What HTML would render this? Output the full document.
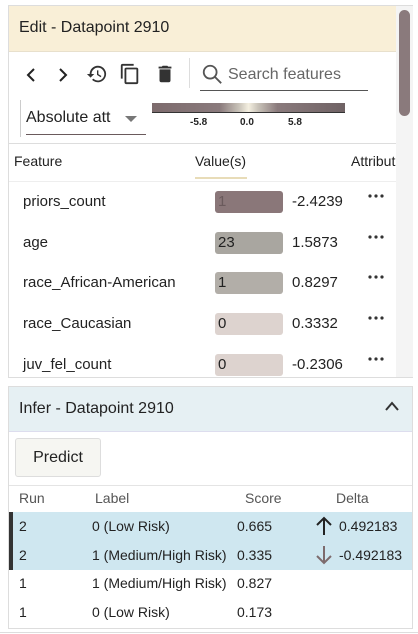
<!DOCTYPE html>
<html><head><meta charset="utf-8"><style>
body{margin:0;width:418px;height:634px;background:#fff;font-family:"Liberation Sans",sans-serif;color:#222;position:relative;overflow:hidden}
.a{position:absolute;white-space:nowrap}
.box{position:absolute;left:215px;width:68px;height:22px;border-radius:3px;font-size:15px;line-height:22px;padding-left:3px;box-sizing:border-box}
</style></head><body>
<div class="a" style="left:8px;top:5px;width:405px;height:373px;border:1px solid #ddd;box-sizing:border-box"></div>
<div class="a" style="left:9px;top:6px;width:387px;height:45px;background:#f9efd7;border-bottom:1px solid #e8e0cc"></div>
<div class="a" style="left:19px;top:19px;font-size:16px">Edit - Datapoint 2910</div>
<div class="a" style="left:396px;top:6px;width:17px;height:371px;background:#f4f4f4"></div>
<div class="a" style="left:399px;top:10px;width:11px;height:106px;background:#8a7a7c;border-radius:6px"></div>
<svg class="a" style="left:24px;top:67px" width="14" height="16"><path d="M10 2 L4 8 L10 14" fill="none" stroke="#222" stroke-width="2"/></svg>
<svg class="a" style="left:56px;top:67px" width="14" height="16"><path d="M4 2 L10 8 L4 14" fill="none" stroke="#222" stroke-width="2"/></svg>
<svg class="a" style="left:86px;top:63px" width="22" height="22" viewBox="0 0 24 24"><path d="M13 3a9 9 0 0 0-9 9H1l4 4 4-4H6a7 7 0 1 1 2 5l-1.4 1.4A9 9 0 1 0 13 3zm-1 5v5l4 2.5.8-1.3-3.3-2V8z" fill="#333"/></svg>
<svg class="a" style="left:119px;top:62px" width="22" height="24" viewBox="0 0 24 24"><path d="M16 1H4a2 2 0 0 0-2 2v14h2V3h12zm3 4H8a2 2 0 0 0-2 2v14a2 2 0 0 0 2 2h11a2 2 0 0 0 2-2V7a2 2 0 0 0-2-2zm0 16H8V7h11z" fill="#333"/></svg>
<svg class="a" style="left:154px;top:63px" width="22" height="22" viewBox="0 0 24 24"><path d="M6 19a2 2 0 0 0 2 2h8a2 2 0 0 0 2-2V7H6zM19 4h-3.5l-1-1h-5l-1 1H5v2h14z" fill="#333"/></svg>
<div class="a" style="left:189px;top:58px;width:1px;height:30px;background:#ddd"></div>
<svg class="a" style="left:201px;top:63px" width="22" height="22" viewBox="0 0 24 24"><circle cx="10" cy="10" r="7" fill="none" stroke="#555" stroke-width="2"/><line x1="15" y1="15" x2="22" y2="22" stroke="#555" stroke-width="2"/></svg>
<div class="a" style="left:228px;top:66px;font-size:16px;color:#666">Search features</div>
<div class="a" style="left:200px;top:90px;width:168px;height:1px;background:#555"></div>
<div class="a" style="left:20px;top:100px;width:1px;height:37px;background:#ccc"></div>
<div class="a" style="left:26px;top:109px;font-size:16px">Absolute att</div>
<div class="a" style="left:125px;top:116px;width:0;height:0;border-left:6px solid transparent;border-right:6px solid transparent;border-top:6px solid #777"></div>
<div class="a" style="left:26px;top:134px;width:120px;height:1px;background:#6a5a5c"></div>
<div class="a" style="left:152px;top:103px;width:193px;height:9px;background:linear-gradient(90deg,#7d6b6d 0%,#8a7a7c 35%,#c8c2b8 45%,#f4efe0 50%,#c8c2b8 55%,#8a7a7c 65%,#6f6264 100%);border-bottom:1px solid #333"></div>
<div class="a" style="left:190px;top:117px;font-size:10px;font-weight:bold">-5.8</div>
<div class="a" style="left:240px;top:117px;font-size:10px;font-weight:bold">0.0</div>
<div class="a" style="left:288px;top:117px;font-size:10px;font-weight:bold">5.8</div>
<div class="a" style="left:9px;top:143px;width:387px;height:1px;background:#ddd"></div>
<div class="a" style="left:14px;top:153px;font-size:14px">Feature</div>
<div class="a" style="left:195px;top:153px;font-size:14px">Value(s)</div>
<div class="a" style="left:195px;top:177px;width:52px;height:2px;background:#e8dcb8"></div>
<div class="a" style="left:351px;top:153px;font-size:14px;width:45px;overflow:hidden">Attribution</div>
<div class="a" style="left:9px;top:181px;width:387px;height:1px;background:#eee"></div>
<div id="rows"></div>
<div class="a" style="left:8px;top:386px;width:405px;height:243px;border:1px solid #ddd;box-sizing:border-box"></div>
<div class="a" style="left:9px;top:387px;width:403px;height:44px;background:#e6f0f3;border-bottom:1px solid #dde"></div>
<div class="a" style="left:19px;top:400px;font-size:16px">Infer - Datapoint 2910</div>
<svg class="a" style="left:384px;top:400px" width="16" height="12"><path d="M2 10 L8 3 L14 10" fill="none" stroke="#333" stroke-width="2"/></svg>
<div class="a" style="left:15px;top:438px;width:86px;height:39px;border:1px solid #ddd;border-radius:3px;background:#f6f6f2;box-sizing:border-box;font-size:16px;text-align:center;line-height:37px">Predict</div>
<div class="a" style="left:9px;top:485px;width:403px;height:1px;background:#e4e4e4"></div>
<div class="a" style="left:19px;top:490px;font-size:14px;color:#555">Run</div>
<div class="a" style="left:95px;top:490px;font-size:14px;color:#555">Label</div>
<div class="a" style="left:245px;top:490px;font-size:14px;color:#555">Score</div>
<div class="a" style="left:336px;top:490px;font-size:14px;color:#555">Delta</div>
<div class="a" style="left:9px;top:512px;width:403px;height:58px;background:#cfe7f0"></div>
<div class="a" style="left:9px;top:512px;width:4px;height:58px;background:#333"></div>
<div id="infer"></div>
<div class="a" style="left:0;top:632px;width:418px;height:1px;background:#ddd"></div>
<script>
const features=["priors_count","age","race_African-American","race_Caucasian","juv_fel_count"];
const values=["1","23","1","0","0"];
const attributions=[-2.4239,1.5873,0.8297,0.3332,-0.2306];
const boxColors=["#8a7779","#a9a6a0","#b2aea8","#ddd3cf","#ddd3cf"];
const rows=document.getElementById('rows');
features.forEach((f,i)=>{
  const y=191+i*40.7;
  const n=document.createElement('div');n.className='a';n.style.cssText=`left:23px;top:${y+2}px;font-size:15px`;n.textContent=f;
  
  
  rows.appendChild(n);
  const b=document.createElement('div');b.className='box';b.style.top=y+'px';b.style.background=boxColors[i];b.textContent=values[i];
  if(i===0)b.style.color='#6a5a5c';
  
  
  rows.appendChild(b);
  const v=document.createElement('div');v.className='a';v.style.cssText=`left:292px;top:${y+2}px;font-size:15px`;v.textContent=attributions[i].toFixed(4);
  
  
  rows.appendChild(v);
  const d=document.createElementNS('http://www.w3.org/2000/svg','svg');
  d.setAttribute('class','a');d.setAttribute('width','18');d.setAttribute('height','4');
  d.style.left='368px';d.style.top=(y+3)+'px';
  d.innerHTML='<circle cx="2" cy="2" r="1.6" fill="#333"/><circle cx="8" cy="2" r="1.6" fill="#333"/><circle cx="14" cy="2" r="1.6" fill="#333"/>';
  
  
  rows.appendChild(d);
});
const runs=["2","2","1","1"];
const labels=["0 (Low Risk)","1 (Medium/High Risk)","1 (Medium/High Risk)","0 (Low Risk)"];
const scores=["0.665","0.335","0.827","0.173"];
const deltas=["0.492183","-0.492183","",""];
const inf=document.getElementById('infer');
runs.forEach((r,i)=>{
  const y=518+i*28.7;
  const cells=[[19,r,'run-cell'],[92,labels[i],'label-cell'],[237,scores[i],'score-cell'],[339,deltas[i],'delta-cell']];
  cells.forEach(c=>{
    const e=document.createElement('div');e.className='a';e.style.cssText=`left:${c[0]}px;top:${y}px;font-size:14px`;e.textContent=c[1];
    
    
    inf.appendChild(e);
  });
  if(deltas[i]){
    const up=!deltas[i].startsWith('-');
    const col=up?'#222':'#7d6b6d';
    const a=document.createElementNS('http://www.w3.org/2000/svg','svg');
    a.setAttribute('class','a');a.setAttribute('width','18');a.setAttribute('height','20');
    a.style.left='315px';a.style.top=(y-2)+'px';
    a.innerHTML=up?`<path d="M9 19V2M2 9L9 2L16 9" fill="none" stroke="${col}" stroke-width="2"/>`:`<path d="M9 1V18M2 11L9 18L16 11" fill="none" stroke="${col}" stroke-width="2"/>`;
    
    
    inf.appendChild(a);
  }
});
</script>
</body></html>
